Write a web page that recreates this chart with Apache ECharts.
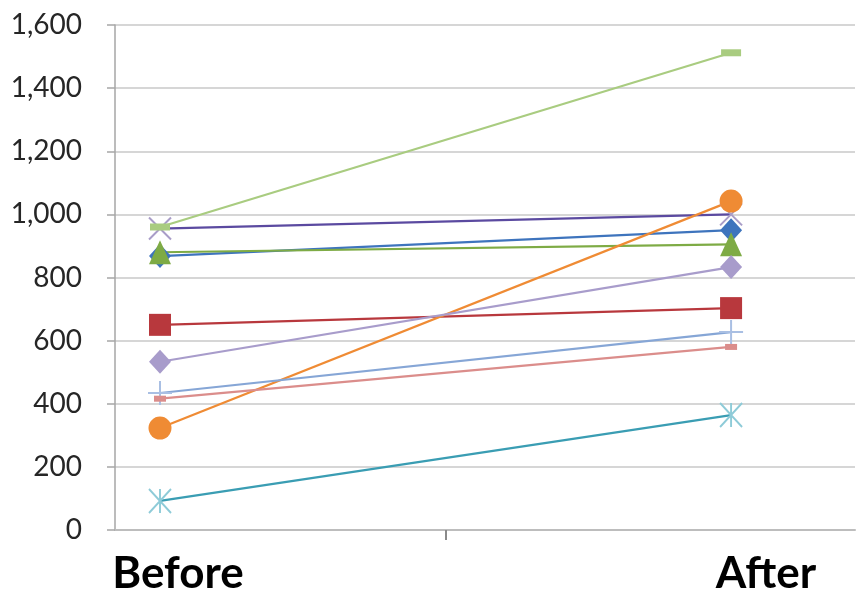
<!DOCTYPE html>
<html>
<head>
<meta charset="utf-8">
<script src="https://cdn.jsdelivr.net/npm/echarts@6/dist/echarts.min.js"></script>
<style>
  html, body { margin: 0; padding: 0; background: #ffffff; }
  #chart { width: 857px; height: 593px; }
</style>
</head>
<body>
<div id="chart"></div>
<script>
// Two measurement points per participant
const categories = ['Before', 'After'];

// Y axis range and step
const yMin = 0;
const yMax = 1600;
const yStep = 200;

// One pair of values per line
const blueDiamond     = [868, 950];
const redSquare       = [650, 703];
const greenTriangle   = [880, 905];
const purpleCross     = [955, 1000];
const aquaStar        = [92, 364];
const orangeCircle    = [323, 1042];
const lightBluePlus   = [434, 627];
const pinkDash        = [416, 580];
const paleGreenDash   = [960, 1512];
const lavenderDiamond = [533, 833];

const CROSS = 'path://M0,0L10,10M10,0L0,10';
const STAR  = 'path://M5,0L5,10M0,0L10,10M10,0L0,10';
const PLUS  = 'path://M5,0L5,10M0,5L10,5';

function pairs(values) {
  return values.map((v, i) => [i, v]);
}

function filledSeries(name, values, lineColor, markColor, symbol, size) {
  return {
    name: name,
    type: 'line',
    data: pairs(values),
    symbol: symbol,
    symbolSize: size,
    showAllSymbol: true,
    lineStyle: { color: lineColor, width: 2.2 },
    itemStyle: { color: markColor, borderWidth: 0, opacity: 1 },
    emphasis: { disabled: true },
    z: 2
  };
}

function strokedSeries(name, values, lineColor, markColor, symbol, size) {
  return {
    name: name,
    type: 'line',
    data: pairs(values),
    symbol: symbol,
    symbolSize: size,
    showAllSymbol: true,
    lineStyle: { color: lineColor, width: 2.2 },
    itemStyle: { color: 'rgba(0,0,0,0)', borderColor: markColor, borderWidth: 2, opacity: 1 },
    emphasis: { disabled: true },
    z: 2
  };
}

const chart = echarts.init(document.getElementById('chart'), null, { renderer: 'canvas' });

chart.setOption({
  animation: false,
  backgroundColor: '#ffffff',
  grid: { left: 115, right: 2, top: 25, bottom: 63, containLabel: false, outerBoundsMode: 'none' },
  xAxis: {
    type: 'value',
    min: -0.0788,
    max: 1.217,
    axisLine: { show: true, onZero: false, lineStyle: { color: '#bdbdbd', width: 2 } },
    axisTick: { show: true, customValues: [0.5], length: 10, lineStyle: { color: '#8a8a8a', width: 2 } },
    splitLine: { show: false },
    axisLabel: {
      customValues: [0.0315, 1.061],
      formatter: (v) => (v < 0.5 ? categories[0] : categories[1]),
      margin: 22,
      fontFamily: 'Lato',
      fontWeight: 'bold',
      fontSize: 44,
      color: '#000000'
    }
  },
  yAxis: {
    type: 'value',
    min: yMin,
    max: yMax,
    interval: yStep,
    axisLine: { show: true, onZero: false, lineStyle: { color: '#a6a6a6', width: 1.5 } },
    axisTick: { show: true, inside: false, length: 8, lineStyle: { color: '#a6a6a6', width: 1.5 } },
    splitLine: { show: true, lineStyle: { color: '#c9c9c9', width: 1.5 } },
    axisLabel: {
      formatter: (v) => v.toLocaleString('en-US'),
      margin: 33,
      fontFamily: 'Lato',
      fontSize: 28,
      color: '#262626'
    }
  },
  series: [
    filledSeries('Series 1', blueDiamond, '#3e74bd', '#3e74bd', 'diamond', [22, 24]),
    filledSeries('Series 2', redSquare, '#b8383d', '#b8383d', 'rect', [22, 22]),
    filledSeries('Series 3', greenTriangle, '#7eab45', '#7eab45', 'triangle', [22, 24]),
    strokedSeries('Series 4', purpleCross, '#5b4aa0', '#a99dc8', CROSS, [22, 22]),
    strokedSeries('Series 5', aquaStar, '#3a9db3', '#8ecbd8', STAR, [22, 24]),
    filledSeries('Series 6', orangeCircle, '#ef8b34', '#ef8b34', 'circle', 23),
    strokedSeries('Series 7', lightBluePlus, '#86a6d6', '#a9bfe3', PLUS, [24, 24]),
    filledSeries('Series 8', pinkDash, '#db8d8b', '#db8d8b', 'rect', [12, 6]),
    filledSeries('Series 9', paleGreenDash, '#a9cc80', '#a9cc80', 'rect', [20, 7]),
    filledSeries('Series 10', lavenderDiamond, '#a89ccb', '#a89ccb', 'diamond', [22, 24])
  ]
});
</script>
</body>
</html>
